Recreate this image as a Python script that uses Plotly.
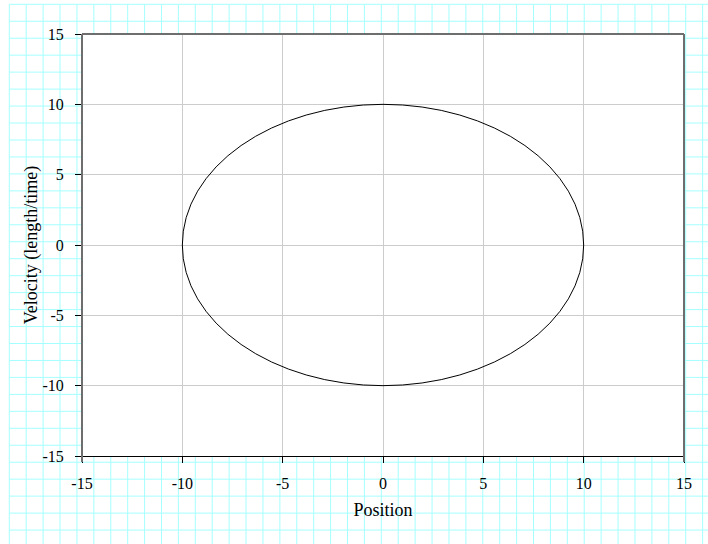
import plotly.graph_objects as go

# Phase portrait of a simple harmonic oscillator
amplitude = 10.0        # maximum displacement (length)
peak_velocity = 10.0    # maximum speed (length/time)
axis_range = [-15, 15]
tick_values = [-15, -10, -5, 0, 5, 10, 15]

W, H = 708, 544
L, R, T, B = 82, 24, 34, 88
pw, ph = W - L - R, H - T - B

fig = go.Figure()

shapes = []

# graph-paper background around the plotting area
def px_x(p):
    return (p - L) / pw

def px_y(p):
    return (H - B - p) / ph

paper_col = "#a6ffff"
gx0, gy0, step_x, step_y = 9.3, 4.3, 16.91, 16.96
k = 0
while gx0 + k * step_x < W:
    x = px_x(gx0 + k * step_x)
    shapes.append(dict(type="line", xref="paper", yref="paper", layer="below",
                       x0=x, x1=x, y0=px_y(gy0), y1=px_y(H + 2),
                       line=dict(color=paper_col, width=1)))
    k += 1
k = 0
while gy0 + k * step_y < H:
    y = px_y(gy0 + k * step_y)
    shapes.append(dict(type="line", xref="paper", yref="paper", layer="below",
                       x0=px_x(gx0), x1=px_x(W + 2), y0=y, y1=y,
                       line=dict(color=paper_col, width=1)))
    k += 1

# plain white plotting area on top of the paper grid
shapes.append(dict(type="rect", xref="paper", yref="paper", layer="below",
                   x0=0, x1=1, y0=0, y1=1, fillcolor="white", line=dict(width=0)))

# gray frame on left, top and right
frame = dict(color="#6e6e6e", width=2)
shapes += [
    dict(type="line", xref="paper", yref="paper", x0=0, x1=0, y0=-6 / ph, y1=1, line=frame),
    dict(type="line", xref="paper", yref="paper", x0=0, x1=1, y0=1, y1=1, line=frame),
    dict(type="line", xref="paper", yref="paper", x0=1, x1=1, y0=-6 / ph, y1=1, line=frame),
]

# closed orbit in phase space
shapes.append(dict(type="circle", xref="x", yref="y",
                   x0=-amplitude, x1=amplitude,
                   y0=-peak_velocity, y1=peak_velocity,
                   line=dict(color="black", width=1)))

fig.add_trace(go.Scatter(x=[], y=[], mode="lines", showlegend=False))

font = dict(family="Liberation Serif", size=16, color="black")

fig.update_layout(
    width=W, height=H,
    margin=dict(l=L, r=R, t=T, b=B),
    paper_bgcolor="white",
    plot_bgcolor="rgba(0,0,0,0)",
    showlegend=False,
    font=font,
    shapes=shapes,
    xaxis=dict(
        range=axis_range, tickvals=tick_values, ticktext=[str(v) for v in tick_values],
        showgrid=True, gridcolor="#cccccc", gridwidth=1, zeroline=False,
        showline=True, linecolor="black", linewidth=1,
        ticks="outside", ticklen=6, tickcolor="black", tickwidth=1,
        ticklabelstandoff=7,
        title=dict(text="Position", font=dict(family="Liberation Serif", size=18), standoff=12),
    ),
    yaxis=dict(
        range=axis_range, tickvals=tick_values, ticktext=[str(v) for v in tick_values],
        showgrid=True, gridcolor="#cccccc", gridwidth=1, zeroline=False,
        showline=False,
        ticks="outside", ticklen=6, tickcolor="black", tickwidth=1,
        ticklabelstandoff=8,
        title=dict(text="Velocity (length/time)", font=dict(family="Liberation Serif", size=18), standoff=0),
    ),
)

fig.write_html("out.html")
